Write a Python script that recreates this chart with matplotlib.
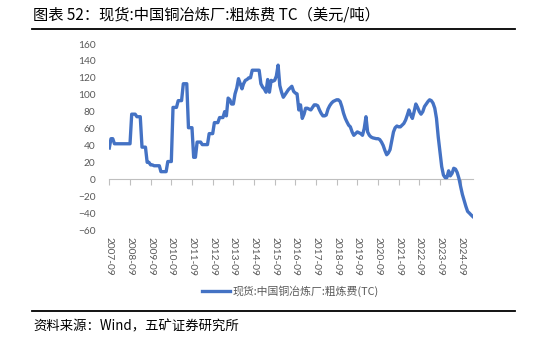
import matplotlib
matplotlib.use("Agg")
import matplotlib.pyplot as plt
import matplotlib.dates as mdates
import pandas as pd

plt.rcParams['font.family'] = ['Noto Sans CJK SC', 'DejaVu Sans']

# 现货:中国铜冶炼厂:粗炼费(TC), 美元/吨, monthly from 2007-09
start_month = "2007-09"
tc_values = [
    37, 48, 48,
    42, 42, 42, 42, 42, 42, 42, 42, 42, 42,
    77, 77, 77, 74, 74, 74, 38, 38, 38, 20, 20,
    17, 17, 16, 16, 16, 16, 9, 9, 9, 9, 21, 21, 21,
    85, 85, 85, 93, 93, 93, 113, 113, 113, 61, 61, 61, 26, 26,
    44, 44, 44, 41, 41, 41, 41, 54, 54, 54, 67, 67, 67, 73, 73, 73,
    80, 75, 96, 94, 89, 89, 101, 108,
    119, 113, 107, 113, 117, 118, 120, 120, 129,
    129, 129, 129, 129,
    113, 109, 107, 103, 118, 103, 117, 116, 117, 122, 135, 111, 103, 97, 100,
    103, 106, 108, 110, 104, 102, 101, 82, 88, 72, 77, 84, 84, 83, 82, 85,
    88, 88, 87, 82, 78, 75, 75, 76, 83, 87, 90, 92, 93, 94, 94, 92, 86, 78,
    72, 68, 64, 62, 56, 52, 54, 56, 55, 54, 52, 60, 74, 56, 52, 50, 49,
    48.5, 48, 48, 47, 44, 40, 34, 29, 31, 35, 45, 56, 61, 63, 62, 62, 64,
    66, 70, 76, 82, 76, 72, 80, 89, 85, 80, 77, 80, 86, 89, 92, 94, 93,
    90, 84, 72, 50, 32, 15, 5, 2, 2, 10, 4, 7, 13, 12, 8, 1, -9, -18, -25,
    -32, -38, -40, -42, -44,
]
series_label = "现货:中国铜冶炼厂:粗炼费(TC)"
title_text = "图表 52：现货:中国铜冶炼厂:粗炼费 TC（美元/吨）"
source_text = "资料来源：Wind，五矿证券研究所"
y_ticks = list(range(-60, 161, 20))

dates = pd.date_range(start_month, periods=len(tc_values), freq="MS")
tick_dates = [d for d in dates if d.month == 9]

W, H = 550, 339
fig = plt.figure(figsize=(W / 100, H / 100), dpi=100)
ax = fig.add_axes([109.3 / W, 1 - 230 / H, (472.7 - 109.3) / W, (230 - 44) / H])

blue = "#4472C4"
gray_txt = "#595959"
ax.plot(dates, tc_values, color=blue, lw=2.4, solid_joinstyle="round", label=series_label)

ax.set_xlim(dates[0], dates[-1])
ax.set_ylim(-60, 160)
ax.set_yticks(y_ticks)
for s in ax.spines.values():
    s.set_visible(False)

ax.set_xticks(tick_dates)
ax.xaxis.set_major_formatter(mdates.DateFormatter("%Y-%m"))
ax.tick_params(axis="x", length=0, pad=5, labelsize=7.3, labelcolor=gray_txt)
ax.tick_params(axis="y", length=0, pad=10, labelsize=7.3, labelcolor=gray_txt)
for lab in ax.get_xticklabels():
    lab.set_rotation(-90)
    lab.set_ha("center")
    lab.set_va("top")
    lab.set_family(["Lato", "DejaVu Sans"])
for lab in ax.get_yticklabels():
    lab.set_family(["Lato", "DejaVu Sans"])

# zero line carrying the tick marks
zero_frac = (0 - (-60)) / (160 - (-60))
sec = ax.secondary_xaxis(zero_frac)
sec.set_xticks(tick_dates)
sec.tick_params(axis="x", direction="out", length=4, width=0.8, color="#BFBFBF", labelbottom=False, labeltop=False)
sec.spines["bottom"].set_color("#BFBFBF")
sec.spines["bottom"].set_linewidth(0.8)
sec.spines["top"].set_visible(False)

# legend
fig.legend(handles=ax.get_lines(), labels=[series_label], loc="center",
           bbox_to_anchor=(290 / W, 1 - 291 / H), frameon=False,
           fontsize=7.8, labelcolor=gray_txt, handlelength=2.6, handletextpad=0.2)

# title, rules and source
fig.text(33 / W, 1 - 15 / H, title_text, fontsize=11, color="black", va="center", ha="left")
fig.add_artist(plt.Line2D([32 / W, 515 / W], [1 - 29 / H, 1 - 29 / H], color="black", lw=1.3))
fig.add_artist(plt.Line2D([32 / W, 515 / W], [1 - 311 / H, 1 - 311 / H], color="black", lw=1.3))
fig.text(33 / W, 1 - 326 / H, source_text, fontsize=9.6, color="black", va="center", ha="left")

fig.savefig("out.png", dpi=100)
